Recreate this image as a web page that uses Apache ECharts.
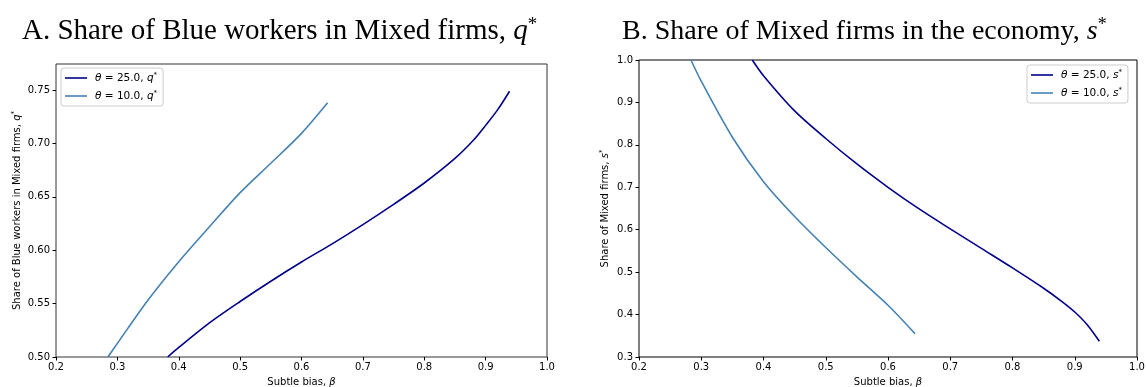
<!DOCTYPE html>
<html>
<head>
<meta charset="utf-8">
<script src="https://cdn.jsdelivr.net/npm/echarts@6/dist/echarts.min.js"></script>
<style>html,body{margin:0;padding:0;background:#fff;}#c{width:1146px;height:387px;}</style>
</head>
<body>
<div id="c"></div>
<script>
// ---- data ----
const xTicks = [0.2, 0.3, 0.4, 0.5, 0.6, 0.7, 0.8, 0.9, 1.0];
const qTicks = [0.50, 0.55, 0.60, 0.65, 0.70, 0.75];
const sTicks = [0.3, 0.4, 0.5, 0.6, 0.7, 0.8, 0.9, 1.0];

const betaQ25 = [0.382, 0.40, 0.45, 0.50, 0.55, 0.60, 0.65, 0.70, 0.75, 0.80, 0.85, 0.88, 0.90, 0.92, 0.939];
const q25     = [0.500, 0.509, 0.532, 0.552, 0.571, 0.589, 0.606, 0.624, 0.643, 0.663, 0.686, 0.703, 0.717, 0.732, 0.749];

const betaQ10 = [0.2846, 0.30, 0.35, 0.40, 0.45, 0.50, 0.55, 0.60, 0.6425];
const q10     = [0.500, 0.5128, 0.5534, 0.5893, 0.6220, 0.6540, 0.6815, 0.7095, 0.7381];

const betaS25 = [0.382, 0.40, 0.45, 0.50, 0.55, 0.60, 0.65, 0.70, 0.75, 0.80, 0.85, 0.88, 0.90, 0.92, 0.9395];
const s25     = [1.000, 0.963, 0.880, 0.815, 0.755, 0.700, 0.649, 0.602, 0.556, 0.510, 0.462, 0.430, 0.406, 0.376, 0.337];

const betaS10 = [0.2835, 0.30, 0.35, 0.40, 0.45, 0.50, 0.55, 0.60, 0.6434];
const s10     = [1.000, 0.950, 0.818, 0.713, 0.631, 0.558, 0.489, 0.422, 0.355];

const names = ['θ = 25.0, q*', 'θ = 10.0, q*', 'θ = 25.0, s*', 'θ = 10.0, s*'];
const legendText = {
  'θ = 25.0, q*': '{i|θ} = 25.0, {i|q}{sup|*}',
  'θ = 10.0, q*': '{i|θ} = 10.0, {i|q}{sup|*}',
  'θ = 25.0, s*': '{i|θ} = 25.0, {i|s}{sup|*}',
  'θ = 10.0, s*': '{i|θ} = 10.0, {i|s}{sup|*}'
};

const DARK = '#00008B';
const LIGHT = '#4682B4';
const SANS = 'DejaVu Sans';
const SERIF = 'Liberation Serif';

function pairs(xs, ys) { return xs.map((x, i) => [x, ys[i]]); }

const smallRich = {
  i: { fontFamily: SANS, fontStyle: 'italic', fontSize: 10, color: '#000' },
  sup: { fontFamily: SANS, fontSize: 7, color: '#000', verticalAlign: 'top', lineHeight: 12 }
};
const legRich = {
  i: { fontFamily: SANS, fontStyle: 'italic', fontSize: 10.5, color: '#000' },
  sup: { fontFamily: SANS, fontSize: 7, color: '#000', verticalAlign: 'top', lineHeight: 12 }
};

function xAxisCfg(gi) {
  return {
    type: 'value', gridIndex: gi, min: 0.2, max: 1.0, interval: 0.1,
    name: 'Subtle bias, {i|β}', nameLocation: 'middle', nameGap: 20,
    nameTextStyle: { fontFamily: SANS, fontSize: 10, color: '#000', rich: smallRich },
    axisLine: { show: false },
    axisTick: { show: true, length: 3.5, lineStyle: { color: '#000' }, customValues: xTicks },
    axisLabel: { fontFamily: SANS, fontSize: 10, color: '#000', margin: 5,
      customValues: xTicks, formatter: v => v.toFixed(1) },
    splitLine: { show: false }
  };
}

function yAxisCfg(gi, min, max, ticks, dec, nameRich, gap) {
  return {
    type: 'value', gridIndex: gi, min: min, max: max,
    name: nameRich, nameLocation: 'middle', nameGap: gap, nameRotate: 90,
    nameTextStyle: { fontFamily: SANS, fontSize: 10, color: '#000', rich: smallRich },
    axisLine: { show: false },
    axisTick: { show: true, length: 3.5, lineStyle: { color: '#000' }, customValues: ticks },
    axisLabel: { fontFamily: SANS, fontSize: 10, color: '#000', margin: 6,
      customValues: ticks, formatter: v => v.toFixed(dec) },
    splitLine: { show: false }
  };
}

function legendCfg(left, top, data) {
  return {
    orient: 'vertical', left: left, top: top, data: data,
    icon: 'rect', itemWidth: 22, itemHeight: 1.6, itemGap: 6,
    padding: [4, 6, 4, 4],
    borderColor: '#cccccc', borderWidth: 1, borderRadius: 3,
    backgroundColor: 'rgba(255,255,255,0.8)',
    formatter: n => legendText[n],
    textStyle: { fontFamily: SANS, fontSize: 10.5, color: '#000', padding: [0, 0, 0, 3], lineHeight: 12,
      rich: legRich }
  };
}

function lineSeries(name, xi, data, color) {
  return {
    name: name, type: 'line', xAxisIndex: xi, yAxisIndex: xi, data: data,
    showSymbol: false, symbol: 'none', smooth: 0.3,
    lineStyle: { color: color, width: 1.6 }, itemStyle: { color: color },
    clip: true, animation: false
  };
}

function titleRich(fs) {
  return {
    i: { fontFamily: SERIF, fontStyle: 'italic', fontSize: fs, color: '#000', lineHeight: 31 },
    sup: { fontFamily: SERIF, fontSize: Math.round(fs * 0.64), color: '#000', verticalAlign: 'top', lineHeight: 31 }
  };
}

const chart = echarts.init(document.getElementById('c'), null, { renderer: 'canvas' });
chart.setOption({
  animation: false,
  backgroundColor: '#fff',
  title: [
    { text: 'A. Share of Blue workers in Mixed firms, {i|q}{sup|*}', left: 17, top: 11,
      textStyle: { fontFamily: SERIF, fontSize: 29, fontWeight: 'normal', color: '#000', lineHeight: 31, rich: titleRich(29) } },
    { text: 'B. Share of Mixed firms in the economy, {i|s}{sup|*}', left: 617, top: 11,
      textStyle: { fontFamily: SERIF, fontSize: 28, fontWeight: 'normal', color: '#000', lineHeight: 31, rich: titleRich(28) } }
  ],
  grid: [
    { left: 56, top: 64, width: 491, height: 293, show: true, borderColor: '#333', borderWidth: 1,
      backgroundColor: 'transparent', containLabel: false, outerBoundsMode: 'none' },
    { left: 639, top: 60, width: 498, height: 297, show: true, borderColor: '#000', borderWidth: 1,
      backgroundColor: 'transparent', containLabel: false, outerBoundsMode: 'none' }
  ],
  xAxis: [xAxisCfg(0), xAxisCfg(1)],
  yAxis: [
    yAxisCfg(0, 0.5, 0.7745, qTicks, 2, 'Share of Blue workers in Mixed firms, {i|q}{sup|*}', 33),
    yAxisCfg(1, 0.3, 1.0, sTicks, 1, 'Share of Mixed firms, {i|s}{sup|*}', 28)
  ],
  legend: [
    legendCfg(61, 68, [names[0], names[1]]),
    legendCfg(1027, 65, [names[2], names[3]])
  ],
  series: [
    lineSeries(names[0], 0, pairs(betaQ25, q25), DARK),
    lineSeries(names[1], 0, pairs(betaQ10, q10), LIGHT),
    lineSeries(names[2], 1, pairs(betaS25, s25), DARK),
    lineSeries(names[3], 1, pairs(betaS10, s10), LIGHT)
  ]
});
</script>
</body>
</html>
